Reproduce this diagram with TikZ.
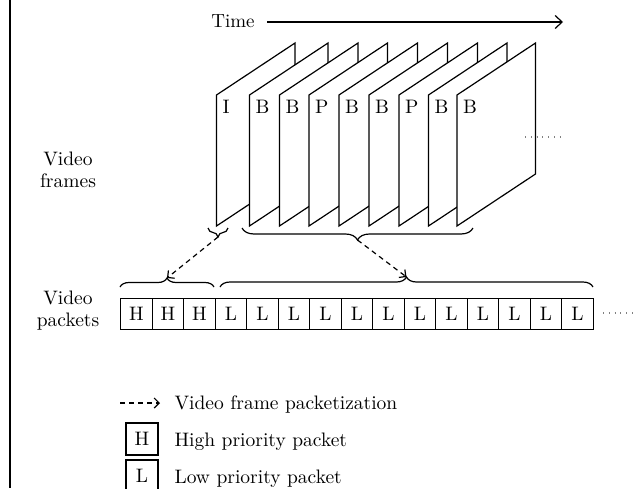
\documentclass[tikz,border=0pt]{standalone}
\usepackage{fontspec}
\setmainfont{lmroman10-regular.otf}
\usetikzlibrary{decorations.pathreplacing,arrows.meta}
\begin{document}
\begin{tikzpicture}[x=1pt,y=-1pt, line width=1.2pt,
  every node/.style={font=\fontsize{19.5}{22}\selectfont},
  frame/.style={draw, fill=white, line join=miter},
  pkt/.style={draw, minimum width=31.5pt, minimum height=31pt, inner sep=0pt, anchor=north west},
  keybox/.style={draw, minimum size=32pt, inner sep=0pt},
  keytext/.style={anchor=base west, inner sep=0pt},
  flow/.style={-{Straight Barb[length=5pt,width=10pt]}, dash pattern=on 5pt off 4pt},
  brc/.style={decorate, decoration={brace, amplitude=#1}},
  dots/.style={line width=1.3pt, dash pattern=on 0.8pt off 5pt, gray}]
\useasboundingbox (0,0) rectangle (638,488);

% page rule on the left
\draw[line width=1.6pt] (10,0) -- (10,488);

% time axis
\node[anchor=base, font=\fontsize{19}{22}\selectfont] (time) at (233,27) {Time};
\coordinate (t0) at (267,22);
\coordinate (t1) at (563,22);
\draw[-{Straight Barb[length=7pt,width=13pt]}] (t0) -- (t1);

% stacked video frames, drawn back to front
\foreach \x/\lab [count=\i] in {216.5/I,249.5/B,279.5/B,309/P,339/B,369/B,399/P,428.5/B,457/B} {
  \draw[frame] (\x,226) -- (\x,95) -- (\x+78.5,43) -- (\x+78.5,174) -- cycle;
  \node[anchor=base west, inner sep=0pt, font=\fontsize{19.5}{22}\selectfont] (fr\i) at (\x+5.5,113) {\lab};
}
\draw[dots] (525,137) -- (563,137);

% side labels
\node[align=center] (vf) at (68,170) {Video\\frames};
\node[align=center] (vp) at (68,311) {Video\\packets};

% packet row
\foreach \t [count=\i] in {H,H,H,L,L,L,L,L,L,L,L,L,L,L,L}
  \node[pkt] (p\i) at ({120+(\i-1)*31.5},298) {\t};
\draw[dots] (603,313) -- (640,313);

% braces grouping frames and packets
\draw[brc=9]  (228,228) -- (208,228);
\draw[brc=12] (473,228) -- (242,228);
\draw[brc=9]  (120,287) -- (214,287);
\draw[brc=10] (220,287) -- (593,287);
\coordinate (ftop1) at (218,237);
\coordinate (ftop2) at (357.5,240);
\coordinate (pbot1) at (167,278);
\coordinate (pbot2) at (406.5,277);

% packetization arrows
\draw[flow] (ftop1) -- (pbot1);
\draw[flow] (ftop2) -- (pbot2);

% legend
\coordinate (k0) at (120,403);
\coordinate (k1) at (160,403);
\draw[flow] (k0) -- (k1);
\node[keytext] (kt1) at (174,409) {Video frame packetization};
\node[keybox] (kH) at (142,439) {H};
\node[keytext] (kt2) at (174,446) {High priority packet};
\node[keybox] (kL) at (142,476) {L};
\node[keytext] (kt3) at (174,483) {Low priority packet};
\end{tikzpicture}
\end{document}
